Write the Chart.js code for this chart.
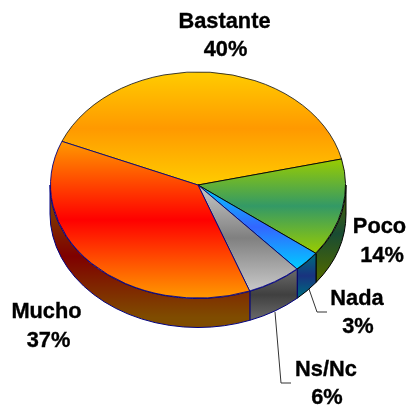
<!DOCTYPE html>
<html>
<head>
<meta charset="utf-8">
<style>html,body{margin:0;padding:0;background:#fff}canvas{display:block}</style>
<script src="https://cdn.jsdelivr.net/npm/chart.js@4/dist/chart.umd.min.js"></script>
</head>
<body>
<div style="width:409px;height:407px"><canvas id="c" width="409" height="407"></canvas></div>
<script>
const categories = ["Bastante", "Poco", "Nada", "Ns/Nc", "Mucho"];
const values = [40, 14, 3, 6, 37];
const edgeColors = ["#ffcc00", "#99cc00", "#00ccff", "#c8c8c8", "#ff9900"];
const midColors = ["#ff9900", "#339966", "#3366ff", "#808080", "#ff0000"];
const lineColors = ["#222222", "#000000", "#000000", "#000080", "#000080"];
const startRotation = 292.7;

const CX = 198, CY = 185, RX = 148, RY = 113.5, DEPTH = 29;
const FLAT = RY / RX;
const FONT = 'bold 21.8px "Liberation Sans", Arial, sans-serif';

const textBlocks = [
  {i: 0, x: 224.5, x2: 225.5, y1: 28, y2: 56},
  {i: 1, x: 379.5, x2: 382, y1: 233, y2: 262},
  {i: 2, x: 357, x2: 358, y1: 305, y2: 333},
  {i: 3, x: 326, x2: 327, y1: 376, y2: 404},
  {i: 4, x: 46.5, x2: 48.5, y1: 318, y2: 347}
];
const leaders = [
  [[309, 289], [317, 312], [327, 312]],
  [[275, 312], [281, 383], [291, 383]]
];

function half(hex) {
  const n = parseInt(hex.slice(1), 16);
  return "rgb(" + ((n >> 16) >> 1) + "," + (((n >> 8) & 255) >> 1) + "," + ((n & 255) >> 1) + ")";
}
function contains(a, b, t) {
  const T = Math.PI * 2;
  let x = t;
  while (x < a) x += T;
  return x <= b;
}
function threeStop(ctx, y0, y1, edge, mid) {
  const g = ctx.createLinearGradient(0, y0, 0, y1);
  g.addColorStop(0, edge);
  g.addColorStop(0.5, mid);
  g.addColorStop(1, edge);
  return g;
}

const pie3d = {
  id: "pie3d",
  beforeDatasetsDraw(chart) {
    const ctx = chart.ctx;
    const arcs = chart.getDatasetMeta(0).data;
    // side wall, from the angles the library computed
    arcs.forEach((arc, i) => {
      const T = Math.PI * 2;
      let a = arc.startAngle, b = arc.endAngle;
      for (let k = -1; k <= 1; k++) {
        const s = Math.max(a, k * T), e = Math.min(b, k * T + Math.PI);
        if (e <= s) continue;
        const ys = [CY + RY * Math.sin(s), CY + RY * Math.sin(e)];
        if (contains(s, e, Math.PI / 2)) ys.push(CY + RY);
        const top = Math.min(...ys), bottom = Math.max(...ys) + DEPTH;
        const inset = (bottom - top) * 0.07;
        ctx.save();
        ctx.beginPath();
        ctx.ellipse(CX, CY, RX, RY, 0, s, e);
        ctx.ellipse(CX, CY + DEPTH, RX, RY, 0, e, s, true);
        ctx.closePath();
        ctx.fillStyle = threeStop(ctx, top + inset, bottom - inset, half(edgeColors[i]), half(midColors[i]));
        ctx.fill();
        ctx.lineWidth = 1;
        ctx.strokeStyle = lineColors[i];
        ctx.stroke();
        ctx.restore();
      }
    });
    // top gradients, defined in the un-flattened space of the arcs
    arcs.forEach((arc, i) => {
      const R = arc.outerRadius, a = arc.startAngle, b = arc.endAngle;
      const ys = [arc.y, arc.y + R * Math.sin(a), arc.y + R * Math.sin(b)];
      if (contains(a, b, -Math.PI / 2)) ys.push(arc.y - R);
      if (contains(a, b, Math.PI / 2)) ys.push(arc.y + R);
      arc.options.backgroundColor = threeStop(ctx, Math.min(...ys), Math.max(...ys), edgeColors[i], midColors[i]);
    });
    ctx.save();
    ctx.translate(CX, CY);
    ctx.scale(1, FLAT);
    ctx.translate(-CX, -CY);
  },
  afterDatasetsDraw(chart) {
    const ctx = chart.ctx;
    ctx.restore();
    ctx.save();
    ctx.strokeStyle = "#333333";
    ctx.lineWidth = 1;
    leaders.forEach(pts => {
      ctx.beginPath();
      pts.forEach((p, k) => k ? ctx.lineTo(p[0], p[1]) : ctx.moveTo(p[0], p[1]));
      ctx.stroke();
    });
    ctx.fillStyle = "#000";
    ctx.font = FONT;
    ctx.textAlign = "center";
    ctx.textBaseline = "alphabetic";
    ctx.lineWidth = 0.35;
    ctx.strokeStyle = "#000";
    textBlocks.forEach(t => {
      ctx.fillText(categories[t.i], t.x, t.y1);
      ctx.strokeText(categories[t.i], t.x, t.y1);
      ctx.fillText(values[t.i] + "%", t.x2, t.y2);
      ctx.strokeText(values[t.i] + "%", t.x2, t.y2);
    });
    ctx.restore();
  }
};

new Chart(document.getElementById("c"), {
  type: "pie",
  data: {
    labels: categories,
    datasets: [{
      data: values,
      backgroundColor: midColors.slice(),
      borderColor: lineColors.slice(),
      borderWidth: 1,
      clip: false
    }]
  },
  options: {
    responsive: false,
    animation: false,
    rotation: startRotation,
    layout: {padding: {left: CX - RX, right: 409 - CX - RX, top: CY - RX, bottom: 407 - CY - RX}},
    plugins: {legend: {display: false}, tooltip: {enabled: false}}
  },
  plugins: [pie3d]
});
</script>
</body>
</html>
